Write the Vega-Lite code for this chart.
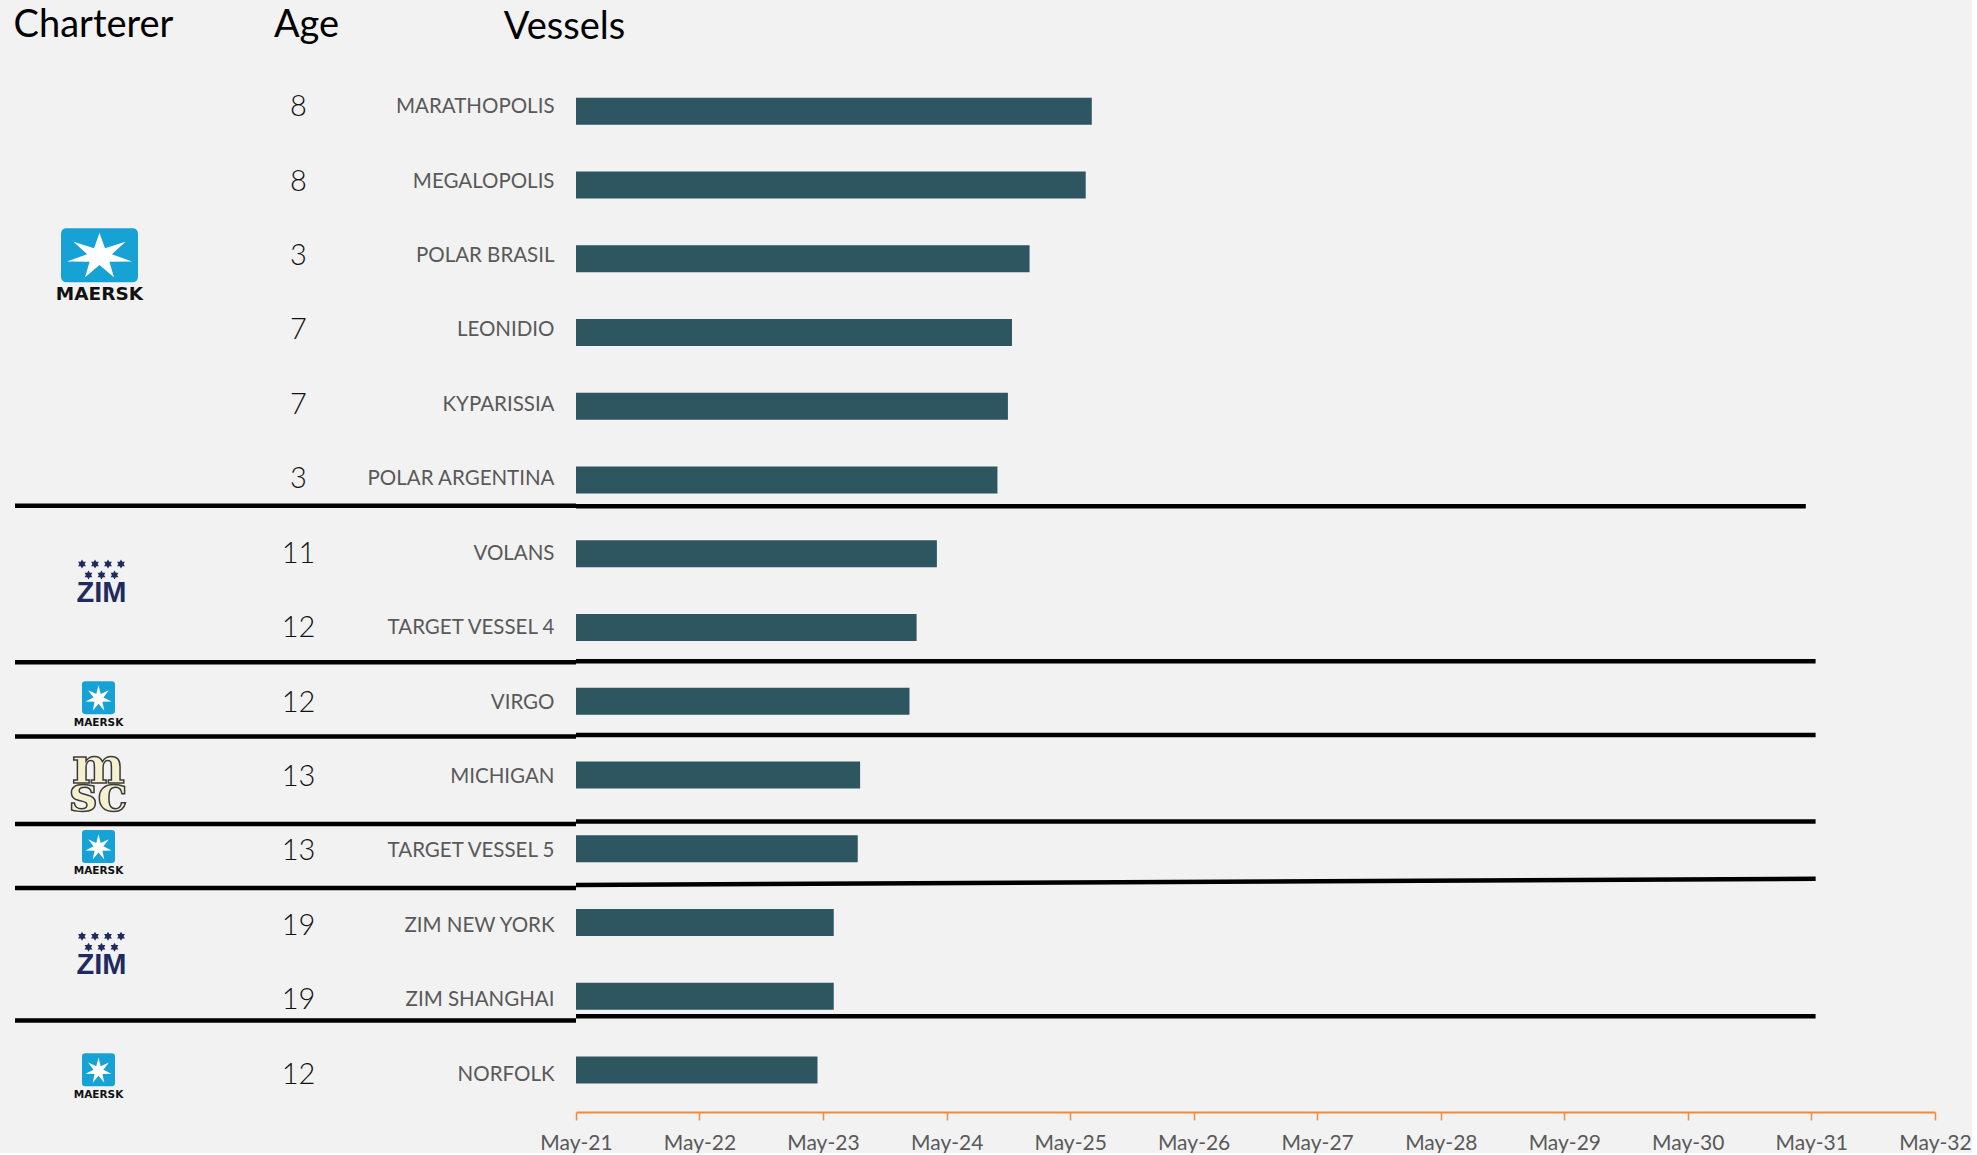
{
  "$schema": "https://vega.github.io/schema/vega-lite/v6.json",
  "background": "#F2F2F2",
  "padding": 0,
  "bounds": "flush",
  "spacing": 0,
  "config": {"view": {"stroke": null}, "font": "Lato"},
  "datasets": {
    "vessels": [
      {"rank": 0, "vessel": "MARATHOPOLIS", "age": 8, "start": "2021-05-01", "end": "2025-07-04", "group": 1, "charterer": "MAERSK"},
      {"rank": 1, "vessel": "MEGALOPOLIS", "age": 8, "start": "2021-05-01", "end": "2025-06-16", "group": 1, "charterer": "MAERSK"},
      {"rank": 2, "vessel": "POLAR BRASIL", "age": 3, "start": "2021-05-01", "end": "2025-01-01", "group": 1, "charterer": "MAERSK"},
      {"rank": 3, "vessel": "LEONIDIO", "age": 7, "start": "2021-05-01", "end": "2024-11-10", "group": 1, "charterer": "MAERSK"},
      {"rank": 4, "vessel": "KYPARISSIA", "age": 7, "start": "2021-05-01", "end": "2024-10-29", "group": 1, "charterer": "MAERSK"},
      {"rank": 5, "vessel": "POLAR ARGENTINA", "age": 3, "start": "2021-05-01", "end": "2024-09-28", "group": 1, "charterer": "MAERSK"},
      {"rank": 6, "vessel": "VOLANS", "age": 11, "start": "2021-05-01", "end": "2024-04-02", "group": 2, "charterer": "ZIM"},
      {"rank": 7, "vessel": "TARGET VESSEL 4", "age": 12, "start": "2021-05-01", "end": "2024-02-02", "group": 2, "charterer": "ZIM"},
      {"rank": 8, "vessel": "VIRGO", "age": 12, "start": "2021-05-01", "end": "2024-01-12", "group": 3, "charterer": "MAERSK"},
      {"rank": 9, "vessel": "MICHIGAN", "age": 13, "start": "2021-05-01", "end": "2023-08-19", "group": 4, "charterer": "MSC"},
      {"rank": 10, "vessel": "TARGET VESSEL 5", "age": 13, "start": "2021-05-01", "end": "2023-08-12", "group": 5, "charterer": "MAERSK"},
      {"rank": 11, "vessel": "ZIM NEW YORK", "age": 19, "start": "2021-05-01", "end": "2023-06-02", "group": 6, "charterer": "ZIM"},
      {"rank": 12, "vessel": "ZIM SHANGHAI", "age": 19, "start": "2021-05-01", "end": "2023-06-02", "group": 6, "charterer": "ZIM"},
      {"rank": 13, "vessel": "NORFOLK", "age": 12, "start": "2021-05-01", "end": "2023-04-15", "group": 7, "charterer": "MAERSK"}
    ],
    "seps": [
      {"ym": 5.356, "yr": 5.356, "start": "2021-05-01", "end": "2031-04-15"},
      {"ym": 7.457, "yr": 7.457, "start": "2021-05-01", "end": "2031-05-14"},
      {"ym": 8.456, "yr": 8.456, "start": "2021-05-01", "end": "2031-05-14"},
      {"ym": 9.63, "yr": 9.63, "start": "2021-05-01", "end": "2031-05-14"},
      {"ym": 10.49, "yr": 10.405, "start": "2021-05-01", "end": "2031-05-14"},
      {"ym": 12.27, "yr": 12.27, "start": "2021-05-01", "end": "2031-05-14"}
    ],
    "headers": [
      {"label": "Charterer", "col": "Charterer"},
      {"label": "Age", "col": "Age"},
      {"label": "Vessels", "col": "Vessel"}
    ]
  },
  "hconcat": [
    {
      "width": 576,
      "height": 1112,
      "layer": [
        {
          "data": {"name": "seps"},
          "mark": {"type": "rule", "color": "#000000", "strokeWidth": 4.5, "xOffset": -81, "x2Offset": 96},
          "encoding": {
            "x": {"datum": "Charterer", "type": "nominal", "scale": {"type": "point", "domain": ["Charterer", "Age", "Vessel"], "padding": 0.5}, "axis": null},
            "x2": {"datum": "Vessel"},
            "y": {"field": "ym", "type": "quantitative", "scale": {"domain": [-1.44, 13.5], "reverse": true, "nice": false, "zero": false}, "axis": null}
          }
        },
        {
          "data": {"name": "headers"},
          "transform": [{"filter": "datum.col === 'Charterer'"}],
          "mark": {"type": "text", "font": "Lato", "fontSize": 38, "color": "#000000", "baseline": "alphabetic", "dx": -2.5},
          "encoding": {
            "x": {"field": "col", "type": "nominal", "axis": null},
            "y": {"datum": -0.94, "type": "quantitative"},
            "text": {"field": "label"}
          }
        },
        {
          "data": {"name": "headers"},
          "transform": [{"filter": "datum.col === 'Age'"}],
          "mark": {"type": "text", "font": "Lato", "fontSize": 38, "color": "#000000", "baseline": "alphabetic", "dx": 18.5},
          "encoding": {
            "x": {"field": "col", "type": "nominal", "axis": null},
            "y": {"datum": -0.94, "type": "quantitative"},
            "text": {"field": "label"}
          }
        },
        {
          "data": {"name": "headers"},
          "transform": [{"filter": "datum.col === 'Vessel'"}],
          "mark": {"type": "text", "font": "Lato", "fontSize": 38, "color": "#000000", "baseline": "alphabetic", "dx": 84.5},
          "encoding": {
            "x": {"field": "col", "type": "nominal", "axis": null},
            "y": {"datum": -0.91, "type": "quantitative"},
            "text": {"field": "label"}
          }
        },
        {
          "data": {"name": "vessels"},
          "mark": {"type": "text", "font": "Lato", "fontWeight": 300, "fontSize": 29, "color": "#111111", "dx": 10.5},
          "encoding": {
            "x": {"datum": "Age", "type": "nominal", "axis": null},
            "y": {"field": "rank", "type": "quantitative"},
            "text": {"field": "age"}
          }
        },
        {
          "data": {"name": "vessels"},
          "mark": {"type": "text", "font": "Lato", "fontSize": 20.5, "color": "#595959", "align": "right", "dx": 74.5},
          "encoding": {
            "x": {"datum": "Vessel", "type": "nominal", "axis": null},
            "y": {"field": "rank", "type": "quantitative"},
            "text": {"field": "vessel"}
          }
        },
        {
          "data": {"name": "vessels"},
          "transform": [
            {"aggregate": [{"op": "mean", "field": "rank", "as": "mid"}, {"op": "count", "as": "n"}], "groupby": ["group", "charterer"]}
          ],
          "encoding": {
            "x": {"datum": "Charterer", "type": "nominal", "axis": null},
            "y": {"field": "mid", "type": "quantitative"}
          },
          "layer": [
            {
              "transform": [{"filter": "datum.charterer === 'MAERSK' && datum.n > 1"}],
              "mark": {"type": "point", "shape": "M-0.85,-0.7H0.85Q1,-0.7,1,-0.55V0.55Q1,0.7,0.85,0.7H-0.85Q-1,0.7,-1,0.55V-0.55Q-1,-0.7,-0.85,-0.7Z", "size": 5929, "filled": true, "color": "#17A2D6", "opacity": 1, "strokeWidth": 0, "xOffset": 3.5, "yOffset": -38}
            },
            {
              "transform": [{"filter": "datum.charterer === 'MAERSK' && datum.n > 1"}],
              "mark": {"type": "point", "shape": "M0,-0.7L0.165,-0.239L0.782,-0.436L0.37,-0.06L0.975,0.156L0.297,0.166L0.434,0.631L0,0.266L-0.434,0.631L-0.297,0.166L-0.975,0.156L-0.37,-0.06L-0.782,-0.436L-0.165,-0.239Z", "size": 4444, "filled": true, "color": "#FFFFFF", "opacity": 1, "strokeWidth": 0, "xOffset": 3.5, "yOffset": -37}
            },
            {
              "transform": [{"filter": "datum.charterer === 'MAERSK' && datum.n > 1"}],
              "mark": {"type": "text", "font": "DejaVu Sans", "fontWeight": "bold", "fontSize": 18.5, "color": "#111111", "xOffset": 3.5, "yOffset": 1},
              "encoding": {"text": {"field": "charterer"}}
            },
            {
              "transform": [{"filter": "datum.charterer === 'MAERSK' && datum.n === 1"}],
              "mark": {"type": "point", "shape": "M-0.8,-1H0.8Q1,-1,1,-0.8V0.8Q1,1,0.8,1H-0.8Q-1,1,-1,0.8V-0.8Q-1,-1,-0.8,-1Z", "size": 1089, "filled": true, "color": "#17A2D6", "opacity": 1, "strokeWidth": 0, "xOffset": 2.5, "yOffset": -5}
            },
            {
              "transform": [{"filter": "datum.charterer === 'MAERSK' && datum.n === 1"}],
              "mark": {"type": "point", "shape": "M0,-1L0.165,-0.342L0.782,-0.623L0.37,-0.085L0.975,0.223L0.297,0.237L0.434,0.901L0,0.38L-0.434,0.901L-0.297,0.237L-0.975,0.223L-0.37,-0.085L-0.782,-0.623L-0.165,-0.342Z", "size": 711, "filled": true, "color": "#FFFFFF", "opacity": 1, "strokeWidth": 0, "xOffset": 2.5, "yOffset": -4}
            },
            {
              "transform": [{"filter": "datum.charterer === 'MAERSK' && datum.n === 1"}],
              "mark": {"type": "text", "font": "DejaVu Sans", "fontWeight": "bold", "fontSize": 10.5, "color": "#111111", "xOffset": 2.5, "yOffset": 20},
              "encoding": {"text": {"field": "charterer"}}
            },
            {
              "transform": [{"filter": "datum.charterer === 'ZIM'"}],
              "mark": {"type": "text", "font": "Liberation Sans", "fontWeight": "bold", "fontSize": 29, "color": "#1F2A5E", "xOffset": 5.5, "yOffset": 2},
              "encoding": {"text": {"field": "charterer"}}
            },
            {
              "transform": [{"filter": "datum.charterer === 'ZIM'"}],
              "mark": {"type": "point", "size": 4, "filled": true, "color": "#1F2A5E", "opacity": 1, "strokeWidth": 0, "xOffset": 5.5, "yOffset": 0,
                "shape": "M-19.5,-31.5l1.3,2.25l2.6,0l-1.3,2.25l1.3,2.25l-2.6,0l-1.3,2.25l-1.3,-2.25l-2.6,0l1.3,-2.25l-1.3,-2.25l2.6,0zM-6.5,-31.5l1.3,2.25l2.6,0l-1.3,2.25l1.3,2.25l-2.6,0l-1.3,2.25l-1.3,-2.25l-2.6,0l1.3,-2.25l-1.3,-2.25l2.6,0zM6.5,-31.5l1.3,2.25l2.6,0l-1.3,2.25l1.3,2.25l-2.6,0l-1.3,2.25l-1.3,-2.25l-2.6,0l1.3,-2.25l-1.3,-2.25l2.6,0zM19.5,-31.5l1.3,2.25l2.6,0l-1.3,2.25l1.3,2.25l-2.6,0l-1.3,2.25l-1.3,-2.25l-2.6,0l1.3,-2.25l-1.3,-2.25l2.6,0zM-13,-20.5l1.3,2.25l2.6,0l-1.3,2.25l1.3,2.25l-2.6,0l-1.3,2.25l-1.3,-2.25l-2.6,0l1.3,-2.25l-1.3,-2.25l2.6,0zM0,-20.5l1.3,2.25l2.6,0l-1.3,2.25l1.3,2.25l-2.6,0l-1.3,2.25l-1.3,-2.25l-2.6,0l1.3,-2.25l-1.3,-2.25l2.6,0zM13,-20.5l1.3,2.25l2.6,0l-1.3,2.25l1.3,2.25l-2.6,0l-1.3,2.25l-1.3,-2.25l-2.6,0l1.3,-2.25l-1.3,-2.25l2.6,0z"}
            },
            {
              "transform": [{"filter": "datum.charterer === 'MSC'"}],
              "mark": {"type": "text", "text": ["m", "sc"], "font": "DejaVu Serif", "fontWeight": "bold", "fontSize": 50, "lineHeight": 28, "baseline": "alphabetic", "color": "#F5F0D0", "stroke": "#3A3A3A", "strokeWidth": 1.5, "xOffset": 2.5, "yOffset": 6}
            }
          ]
        }
      ]
    },
    {
      "width": 1359,
      "height": 1112,
      "layer": [
        {
          "data": {"name": "vessels"},
          "mark": {"type": "bar", "size": 27, "color": "#2E5661"},
          "encoding": {
            "x": {
              "field": "start", "type": "temporal",
              "scale": {"type": "utc", "domain": [{"year": 2021, "month": 5, "date": 1, "utc": true}, {"year": 2032, "month": 5, "date": 1, "utc": true}]},
              "axis": {
                "values": [
                  {"year": 2021, "month": 5, "date": 1, "utc": true},
                  {"year": 2022, "month": 5, "date": 1, "utc": true},
                  {"year": 2023, "month": 5, "date": 1, "utc": true},
                  {"year": 2024, "month": 5, "date": 1, "utc": true},
                  {"year": 2025, "month": 5, "date": 1, "utc": true},
                  {"year": 2026, "month": 5, "date": 1, "utc": true},
                  {"year": 2027, "month": 5, "date": 1, "utc": true},
                  {"year": 2028, "month": 5, "date": 1, "utc": true},
                  {"year": 2029, "month": 5, "date": 1, "utc": true},
                  {"year": 2030, "month": 5, "date": 1, "utc": true},
                  {"year": 2031, "month": 5, "date": 1, "utc": true},
                  {"year": 2032, "month": 5, "date": 1, "utc": true}
                ],
                "format": "%b-%y",
                "title": null,
                "grid": false,
                "domainColor": "#F08A3C",
                "domainWidth": 2,
                "tickColor": "#F08A3C",
                "tickWidth": 1.5,
                "tickSize": 8,
                "labelFont": "Lato",
                "labelFontSize": 21,
                "labelColor": "#595959",
                "labelPadding": 12,
                "labelOverlap": false,
                "labelFlush": false
              }
            },
            "x2": {"field": "end"},
            "y": {"field": "rank", "type": "quantitative", "scale": {"domain": [-1.44, 13.5], "reverse": true, "nice": false, "zero": false}, "axis": null}
          }
        },
        {
          "data": {"name": "seps"},
          "mark": {"type": "rule", "color": "#000000", "strokeWidth": 4.5},
          "encoding": {
            "x": {"field": "start", "type": "temporal"},
            "x2": {"field": "end"},
            "y": {"field": "ym", "type": "quantitative"},
            "y2": {"field": "yr"}
          }
        }
      ]
    }
  ]
}
